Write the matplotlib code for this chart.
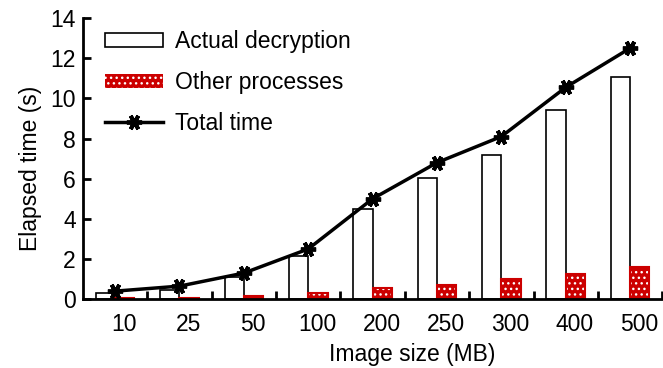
import numpy as np
import matplotlib
matplotlib.use("Agg")
import matplotlib.pyplot as plt
import matplotlib.transforms as mtransforms

plt.rcParams['font.family'] = ['Liberation Sans', 'DejaVu Sans']
plt.rcParams['hatch.linewidth'] = 1.0

# data
sizes = ['10', '25', '50', '100', '200', '250', '300', '400', '500']
actual = [0.3, 0.45, 1.1, 2.15, 4.5, 6.05, 7.2, 9.4, 11.05]
other = [0.05, 0.08, 0.17, 0.3, 0.55, 0.73, 1.0, 1.25, 1.6]
total = [0.4, 0.65, 1.3, 2.5, 5.0, 6.8, 8.1, 10.55, 12.5]

fs = 16.5
fig = plt.figure(figsize=(6.63, 3.68), dpi=100)
ax = fig.add_axes([0.125, 0.187, 0.874, 0.764])

x = np.arange(len(sizes))
w = 0.3
b1 = ax.bar(x - w / 2, actual, w, color='white', edgecolor='black', linewidth=1.2,
            label='Actual decryption', zorder=2)
# red bars: white dotted hatch, then red outline on top
b2 = ax.bar(x + w / 2, other, w, color='#cc0000', edgecolor='white', linewidth=0,
            hatch='...', label='Other processes', zorder=2)
ax.bar(x + w / 2, other, w, fill=False, edgecolor='#cc0000', linewidth=1.5, zorder=2)
l1, = ax.plot(x, total, color='black', lw=2.5, marker=(6, 2, 90), ms=11, mew=2.8,
              label='Total time', zorder=3)

ax.set_xlim(-0.5, 8.5)
ax.set_ylim(0, 14)
ax.set_yticks(np.arange(0, 15, 2))
ax.set_xticks(x)
ax.set_xticklabels(sizes)
ax.set_xticks(x + 0.5, minor=True)
ax.tick_params(axis='x', which='major', length=0, pad=10, labelsize=fs)
ax.tick_params(axis='x', which='minor', direction='in', length=6, width=2)
ax.tick_params(axis='y', direction='in', length=6, width=2, labelsize=fs, pad=5)
offset = mtransforms.ScaledTranslation(9 / 100, 0, fig.dpi_scale_trans)
for lab in ax.get_xticklabels():
    lab.set_transform(lab.get_transform() + offset)

for s in ['top', 'right']:
    ax.spines[s].set_visible(False)
for s in ['left', 'bottom']:
    ax.spines[s].set_linewidth(2)

ax.set_xlabel('Image size (MB)', fontsize=fs)
ax.set_ylabel('Elapsed time (s)', fontsize=fs)
ax.xaxis.set_label_coords(0.568, -0.155)
ax.yaxis.set_label_coords(-0.07, 0.466)

ax.legend([b1, b2, l1], ['Actual decryption', 'Other processes', 'Total time'],
          loc='upper left', bbox_to_anchor=(0.003, 1.03), frameon=False, fontsize=fs,
          handlelength=2.5, handleheight=0.6, labelspacing=0.78, handletextpad=0.55)

fig.savefig('out.png', dpi=100)
